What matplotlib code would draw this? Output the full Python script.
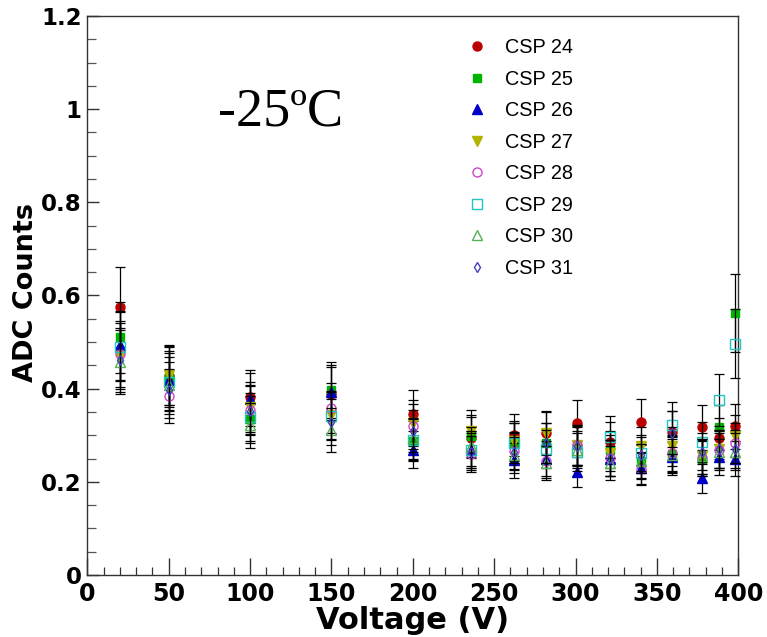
import matplotlib
matplotlib.use("Agg")
import matplotlib.pyplot as plt
from matplotlib.ticker import MultipleLocator

voltage = [20, 50, 100, 150, 200, 236, 262, 282, 301, 321, 340, 359, 378, 388, 398]

csp24 = [0.575, 0.428, 0.383, 0.389, 0.345, 0.295, 0.301, 0.305, 0.327, 0.285, 0.328, 0.306, 0.317, 0.294, 0.319]
csp24_err = [0.086, 0.064, 0.057, 0.058, 0.052, 0.044, 0.045, 0.046, 0.049, 0.043, 0.049, 0.046, 0.048, 0.044, 0.048]
csp25 = [0.510, 0.425, 0.334, 0.397, 0.288, 0.298, 0.284, 0.284, 0.279, 0.269, 0.244, 0.260, 0.250, 0.317, 0.562]
csp25_err = [0.077, 0.064, 0.050, 0.060, 0.043, 0.045, 0.043, 0.043, 0.042, 0.040, 0.037, 0.039, 0.038, 0.048, 0.084]
csp26 = [0.493, 0.418, 0.377, 0.392, 0.269, 0.269, 0.246, 0.250, 0.221, 0.249, 0.229, 0.253, 0.208, 0.253, 0.250]
csp26_err = [0.074, 0.063, 0.057, 0.059, 0.040, 0.040, 0.037, 0.038, 0.033, 0.037, 0.034, 0.038, 0.031, 0.038, 0.038]
csp27 = [0.470, 0.429, 0.360, 0.343, 0.326, 0.309, 0.287, 0.304, 0.279, 0.262, 0.276, 0.276, 0.255, 0.270, 0.298]
csp27_err = [0.071, 0.064, 0.054, 0.051, 0.049, 0.046, 0.043, 0.046, 0.042, 0.039, 0.041, 0.041, 0.038, 0.041, 0.045]
csp28 = [0.474, 0.384, 0.355, 0.358, 0.319, 0.260, 0.267, 0.245, 0.278, 0.251, 0.228, 0.262, 0.251, 0.269, 0.284]
csp28_err = [0.071, 0.058, 0.053, 0.054, 0.048, 0.039, 0.040, 0.037, 0.042, 0.038, 0.034, 0.039, 0.038, 0.040, 0.043]
csp29 = [0.490, 0.414, 0.339, 0.341, 0.290, 0.269, 0.284, 0.270, 0.264, 0.297, 0.262, 0.323, 0.285, 0.375, 0.496]
csp29_err = [0.074, 0.062, 0.051, 0.051, 0.044, 0.040, 0.043, 0.041, 0.040, 0.045, 0.039, 0.048, 0.043, 0.056, 0.074]
csp30 = [0.457, 0.407, 0.321, 0.311, 0.294, 0.276, 0.258, 0.241, 0.269, 0.241, 0.245, 0.258, 0.255, 0.265, 0.265]
csp30_err = [0.069, 0.061, 0.048, 0.047, 0.044, 0.041, 0.039, 0.036, 0.040, 0.036, 0.037, 0.039, 0.038, 0.040, 0.040]
csp31 = [0.461, 0.398, 0.353, 0.328, 0.309, 0.265, 0.265, 0.284, 0.276, 0.251, 0.258, 0.305, 0.265, 0.270, 0.270]
csp31_err = [0.069, 0.060, 0.053, 0.049, 0.046, 0.040, 0.040, 0.043, 0.041, 0.038, 0.039, 0.046, 0.040, 0.041, 0.041]

labels = ["CSP 24", "CSP 25", "CSP 26", "CSP 27", "CSP 28", "CSP 29", "CSP 30", "CSP 31"]
series = [csp24, csp25, csp26, csp27, csp28, csp29, csp30, csp31]
errors = [csp24_err, csp25_err, csp26_err, csp27_err, csp28_err, csp29_err, csp30_err, csp31_err]

styles = [
    dict(marker="o", ms=6.5, mfc="#bb0000", mec="#bb0000"),
    dict(marker="s", ms=6.0, mfc="#00b300", mec="#00b300"),
    dict(marker="^", ms=6.5, mfc="#0000c8", mec="#0000c8"),
    dict(marker="v", ms=6.5, mfc="#b3b300", mec="#b3b300"),
    dict(marker="o", ms=6.5, mfc="none", mec="#cc44cc"),
    dict(marker="s", ms=6.5, mfc="none", mec="#22c4c4"),
    dict(marker="^", ms=7.0, mfc="none", mec="#55b055"),
    dict(marker="d", ms=5.5, mfc="none", mec="#4040c0"),
]

fig = plt.figure(figsize=(7.67, 6.37), dpi=100)
W, H = 767, 637
x0, x1, y0, y1 = 87.3, 738.3, 575.0, 16.0
ax = fig.add_axes([x0 / W, 1 - y0 / H, (x1 - x0) / W, (y0 - y1) / H])

handles = []
for i, (vals, errs, st) in enumerate(zip(series, errors, styles)):
    ax.errorbar(voltage, vals, yerr=errs, fmt="none", ecolor="black",
                elinewidth=0.9, capsize=3.6, capthick=0.9, zorder=3 + 2 * i,
                clip_on=False)
    ln, = ax.plot(voltage, vals, linestyle="none", marker=st["marker"], ms=st["ms"],
                  mfc=st["mfc"], mec=st["mec"], mew=1.0, zorder=4 + 2 * i,
                  clip_on=False, label=labels[i])
    handles.append(ln)

ax.set_xlim(0, 400)
ax.set_ylim(0, 1.2)

for sp in ax.spines.values():
    sp.set_color("#333333")
    sp.set_linewidth(1.0)

ax.xaxis.set_major_locator(MultipleLocator(50))
ax.xaxis.set_minor_locator(MultipleLocator(10))
ax.yaxis.set_major_locator(MultipleLocator(0.2))
ax.yaxis.set_minor_locator(MultipleLocator(0.05))

ax.tick_params(axis="x", which="major", direction="in", length=12.2, width=1.0,
               color="#333333", pad=5, labelsize=17)
ax.tick_params(axis="x", which="minor", direction="in", length=5.8, width=0.9,
               color="#333333")
ax.tick_params(axis="y", which="major", direction="in", length=8.6, width=1.0,
               color="#333333", pad=4, labelsize=16.5)
ax.tick_params(axis="y", which="minor", direction="in", length=6.5, width=0.9,
               color="#555555")

def fmt_y(v, pos):
    if abs(v) < 1e-9:
        return "0"
    s = f"{v:.1f}"
    if s.endswith(".0"):
        s = s[:-2]
    return s

ax.yaxis.set_major_formatter(matplotlib.ticker.FuncFormatter(fmt_y))
ax.xaxis.set_major_formatter(matplotlib.ticker.FuncFormatter(lambda v, p: f"{int(round(v))}"))

for lab in ax.get_xticklabels() + ax.get_yticklabels():
    lab.set_fontweight("bold")
    lab.set_family("DejaVu Sans")

ax.set_xlabel("Voltage (V)", fontsize=22, fontweight="bold", family="DejaVu Sans",
              va="baseline")
ax.xaxis.set_label_coords(0.5, (y0 - 629) / (y0 - y1))
ax.set_ylabel("ADC Counts", fontsize=19.5, fontweight="bold", family="DejaVu Sans",
              ha="center", va="center")
ax.yaxis.set_label_coords((26 - x0) / (x1 - x0), (y0 - 292) / (y0 - y1))

ax.text(80.5, 0.966, "-25\u00baC", family="Liberation Serif", fontsize=39,
        ha="left", va="baseline")

leg = ax.legend(handles=handles, labels=labels, loc="upper left",
                bbox_to_anchor=(467 / W, 1 - 38 / H), bbox_transform=fig.transFigure,
                frameon=False, prop={"family": "Liberation Sans", "size": 14.3},
                handlelength=1.0, handletextpad=0.9, labelspacing=0.63,
                borderpad=0, borderaxespad=0, numpoints=1)

fig.savefig("out.png", dpi=100)
